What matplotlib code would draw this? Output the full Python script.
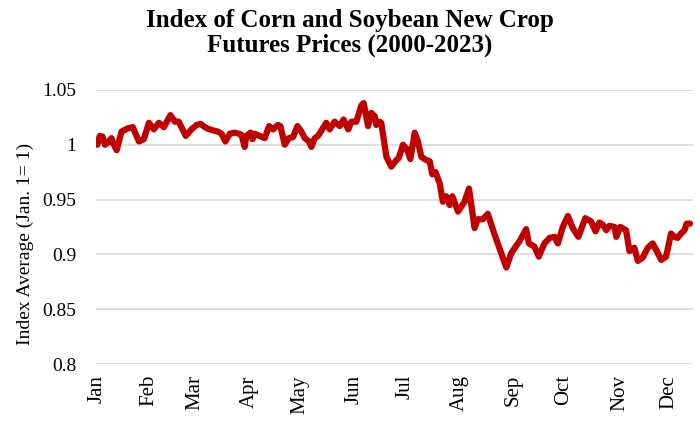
import matplotlib
matplotlib.use("Agg")
import matplotlib.pyplot as plt

plt.rcParams['font.family'] = ['Liberation Serif', 'DejaVu Serif']

# trading day of year (0 = Jan 1) and index value
days = [0, 1.0, 2.1, 3.1, 4.3, 5.8, 6.3, 7.9, 9.9, 12.5, 14.5, 17.0, 19.0, 21.1,
        23.1, 25.2, 27.2, 29.9, 31.7, 33.3, 36.2, 38.5, 40.6, 42.2, 44.7, 47.4,
        49.3, 50.8, 52.4, 54.2, 56.2, 57.9, 59.0, 60.3, 61.0, 62.7, 63.5, 64.4,
        66.5, 68.5, 70.3, 71.9, 73.9, 74.9, 76.7, 78.4, 80.1, 81.9, 83.5, 84.9,
        86.6, 87.6, 89.0, 90.3, 93.7, 95.1, 97.1, 99.2, 100.8, 102.7, 104.0,
        106.0, 108.1, 109.0, 110.8, 112.1, 113.5, 114.2, 115.5, 116.2, 118.3,
        120.3, 122.4, 123.4, 125.1, 126.7, 128.1, 129.9, 131.2, 132.6, 134.6,
        136.0, 137.1, 138.4, 140.1, 141.4, 142.8, 144.2, 145.3, 147.6, 150.3,
        152.1, 154.4, 155.7, 157.8, 159.8, 162.6, 165.3, 167.4, 169.4, 171.2,
        172.8, 175.5, 176.6, 178.9, 180.7, 183.0, 185.1, 187.1, 188.5, 190.5,
        192.6, 194.6, 196.9, 199.7, 202.1, 203.9, 205.5, 206.9, 208.3, 209.6,
        211.7, 212.4, 214.0, 216.4, 217.8, 219.8, 221.2, 223.2, 225.3, 227.3,
        230.8, 232.8, 234.8, 236.2, 237.5, 238.9, 240.3, 241.2, 242.6]
index_avg = [1.000, 1.008, 1.0075, 1.000, 1.002, 1.006, 1.002, 0.995, 1.012, 1.015,
             1.016, 1.003, 1.005, 1.020, 1.014, 1.020, 1.016, 1.027, 1.021, 1.021,
             1.008, 1.014, 1.018, 1.019, 1.015, 1.013, 1.012, 1.010, 1.003, 1.010,
             1.011, 1.010, 1.009, 0.998, 1.008, 1.011, 1.005, 1.010, 1.008, 1.006,
             1.017, 1.014, 1.018, 1.017, 1.000, 1.006, 1.007, 1.017, 1.012, 1.006,
             1.003, 0.998, 1.006, 1.008, 1.020, 1.014, 1.021, 1.017, 1.023, 1.014,
             1.021, 1.021, 1.036, 1.038, 1.017, 1.029, 1.026, 1.018, 1.021, 1.020,
             0.989, 0.980, 0.986, 0.988, 1.000, 0.996, 0.987, 1.011, 1.003, 0.989,
             0.986, 0.985, 0.973, 0.975, 0.965, 0.948, 0.953, 0.945, 0.953, 0.939,
             0.948, 0.960, 0.924, 0.932, 0.932, 0.937, 0.918, 0.901, 0.888, 0.901,
             0.907, 0.912, 0.923, 0.910, 0.907, 0.898, 0.910, 0.915, 0.916, 0.910,
             0.925, 0.935, 0.924, 0.916, 0.933, 0.930, 0.921, 0.929, 0.927, 0.922,
             0.926, 0.925, 0.916, 0.925, 0.922, 0.903, 0.906, 0.894, 0.897, 0.906,
             0.910, 0.895, 0.898, 0.919, 0.916, 0.915, 0.919, 0.922, 0.928, 0.928]

months = ['Jan', 'Feb', 'Mar', 'Apr', 'May', 'Jun', 'Jul', 'Aug', 'Sep', 'Oct', 'Nov', 'Dec']
month_start = [0, 21, 40, 62, 83, 105, 126, 148, 170, 191, 214, 234]
yticks = [0.8, 0.85, 0.9, 0.95, 1.0, 1.05]
ylabels = ['0.8', '0.85', '0.9', '0.95', '1', '1.05']

fig = plt.figure(figsize=(7, 4.24), dpi=100)
ax = fig.add_axes([0.137, 0.1415, 0.853, 0.6465])

ax.plot(days, index_avg, color='#C00000', lw=4.5, solid_joinstyle='round', solid_capstyle='round')

ax.set_xlim(-0.6, 243.8)
ax.set_ylim(0.8, 1.05)
ax.set_yticks(yticks)
ax.set_yticklabels(ylabels)
ax.set_xticks(month_start)
ax.set_xticklabels(months, rotation=90)
ax.tick_params(axis='y', length=0, pad=14, labelsize=14)
ax.tick_params(axis='x', length=0, pad=8, labelsize=15)
ax.grid(axis='y', color='#D9D9D9', lw=1.2)
ax.set_axisbelow(True)
for s in ax.spines.values():
    s.set_visible(False)

fig.text(25 / 700, 1 - 244 / 424, 'Index Average (Jan. 1= 1)', rotation=90,
         ha='center', va='center', fontsize=14)
fig.text(0.5, 0.978, 'Index of Corn and Soybean New Crop\nFutures Prices (2000-2023)',
         ha='center', va='top', fontsize=18, fontweight='bold', linespacing=1.05)

fig.savefig('out.png', dpi=100)
